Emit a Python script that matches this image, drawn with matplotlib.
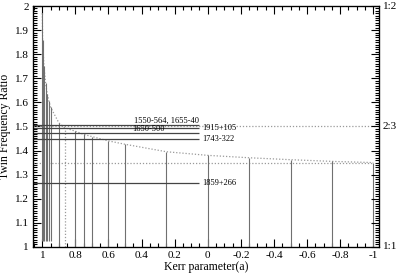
import matplotlib
import matplotlib.pyplot as plt
from matplotlib.ticker import MultipleLocator, FuncFormatter, NullFormatter

matplotlib.use('Agg')

# Dotted curve: twin frequency ratio vs Kerr parameter
curve_spin = [1.0, 0.998, 0.99, 0.98, 0.97, 0.96, 0.95, 0.9, 0.865, 0.8, 0.75,
              0.7, 0.6, 0.5, 0.25, 0.0, -0.25, -0.5, -0.75, -1.0]
curve_ratio = [1.97, 1.86, 1.75, 1.68, 1.635, 1.605, 1.58, 1.515, 1.495, 1.48, 1.467,
               1.458, 1.44, 1.426, 1.395, 1.38, 1.37, 1.362, 1.355, 1.35]

# Solid vertical lines at sampled spins, up to the curve
line_spin = [1.0, 0.998, 0.99, 0.98, 0.97, 0.96, 0.95, 0.9, 0.8, 0.75, 0.7,
             0.6, 0.5, 0.25, 0.0, -0.25, -0.5, -0.75, -1.0]
line_top = [1.97, 1.86, 1.75, 1.68, 1.635, 1.605, 1.58, 1.515, 1.48, 1.467, 1.458,
            1.44, 1.426, 1.395, 1.38, 1.37, 1.362, 1.355, 1.35]
line_bottom = [1.025, 1.025, 1.025, 1.025, 1.025, 1.025, 1.025, 1.0, 1.0, 1.0, 1.0,
               1.0, 1.0, 1.0, 1.0, 1.0, 1.0, 1.0, 1.0]

# Observed sources (horizontal lines)
source_names = ['1550-564, 1655-40', '1915+105', '1650-500', '1743-322', '1859+266']
source_ratio = [1.505, 1.492, 1.471, 1.449, 1.265]
label_side = ['above', 'right', 'above', 'right', 'right']

# Right-hand resonance labels
resonance_ratio = [1.0, 1.5, 2.0]
resonance_labels = ['1:1', '2:3', '1:2']

plt.rcParams['font.family'] = ['Liberation Serif', 'DejaVu Serif']


def tick_fmt(v, pos):
    v = round(v, 2)
    if v == 0:
        return '0'
    return f'{v:g}'


fig = plt.figure(figsize=(4.0, 2.74), dpi=100)
ax = fig.add_axes([0.083, 0.099, 0.865, 0.879])

x_left, x_right = 1.055, -1.036
line_end = 0.055
dot = (0, (1, 1.5))

# reference dotted lines
ax.plot(curve_spin, curve_ratio, color='#9a9a9a', lw=0.9, ls=dot)
ax.hlines(1.5, x_left, x_right, color='#9a9a9a', lw=0.9, ls=dot)
ax.hlines(1.35, x_left, -1.0, color='#9a9a9a', lw=0.9, ls=dot)
ax.vlines(0.865, 1.0, 1.495, color='#9a9a9a', lw=0.9, ls=dot)

ax.vlines(line_spin, line_bottom, line_top, color='#707070', lw=0.8)

ax.hlines(source_ratio, x_left, line_end, color='#444444', lw=0.9)
for name, r, side in zip(source_names, source_ratio, label_side):
    if side == 'above':
        if name.startswith('1550'):
            ax.text(line_end, r + 0.001, name, ha='right', va='bottom', fontsize=6)
        else:
            ax.text(0.455, r + 0.001, name, ha='left', va='bottom', fontsize=6)
    else:
        ax.text(line_end - 0.02, r, name, ha='left', va='center', fontsize=6)

ax.set_xlim(x_left, x_right)
ax.set_ylim(1.0, 2.0)

ax.xaxis.set_major_locator(MultipleLocator(0.2))
ax.xaxis.set_minor_locator(MultipleLocator(0.05))
ax.yaxis.set_major_locator(MultipleLocator(0.1))
ax.yaxis.set_minor_locator(MultipleLocator(0.01))
ax.xaxis.set_major_formatter(FuncFormatter(tick_fmt))
ax.yaxis.set_major_formatter(FuncFormatter(tick_fmt))

ax.tick_params(which='both', direction='in', top=True, right=False, labelsize=8, width=0.8)
ax.tick_params(which='major', length=6, pad=3)
ax.tick_params(which='minor', length=3)
for s in ax.spines.values():
    s.set_linewidth(0.9)

ax2 = ax.twinx()
ax2.set_ylim(1.0, 2.0)
ax2.yaxis.set_major_locator(MultipleLocator(0.1))
ax2.yaxis.set_minor_locator(MultipleLocator(0.01))
ax2.yaxis.set_major_formatter(NullFormatter())
ax2.tick_params(which='both', direction='in', width=0.8)
ax2.tick_params(which='major', length=6)
ax2.tick_params(which='minor', length=3)
for r, lab in zip(resonance_ratio, resonance_labels):
    ax2.text(1.01, (r - 1.0), lab, transform=ax2.transAxes, ha='left', va='center', fontsize=8)

ax.set_xlabel('Kerr parameter(a)', fontsize=8.5, labelpad=1)
ax.set_ylabel('Twin Frequency Ratio', fontsize=8.5, labelpad=3)

fig.savefig('out.png', dpi=100)
